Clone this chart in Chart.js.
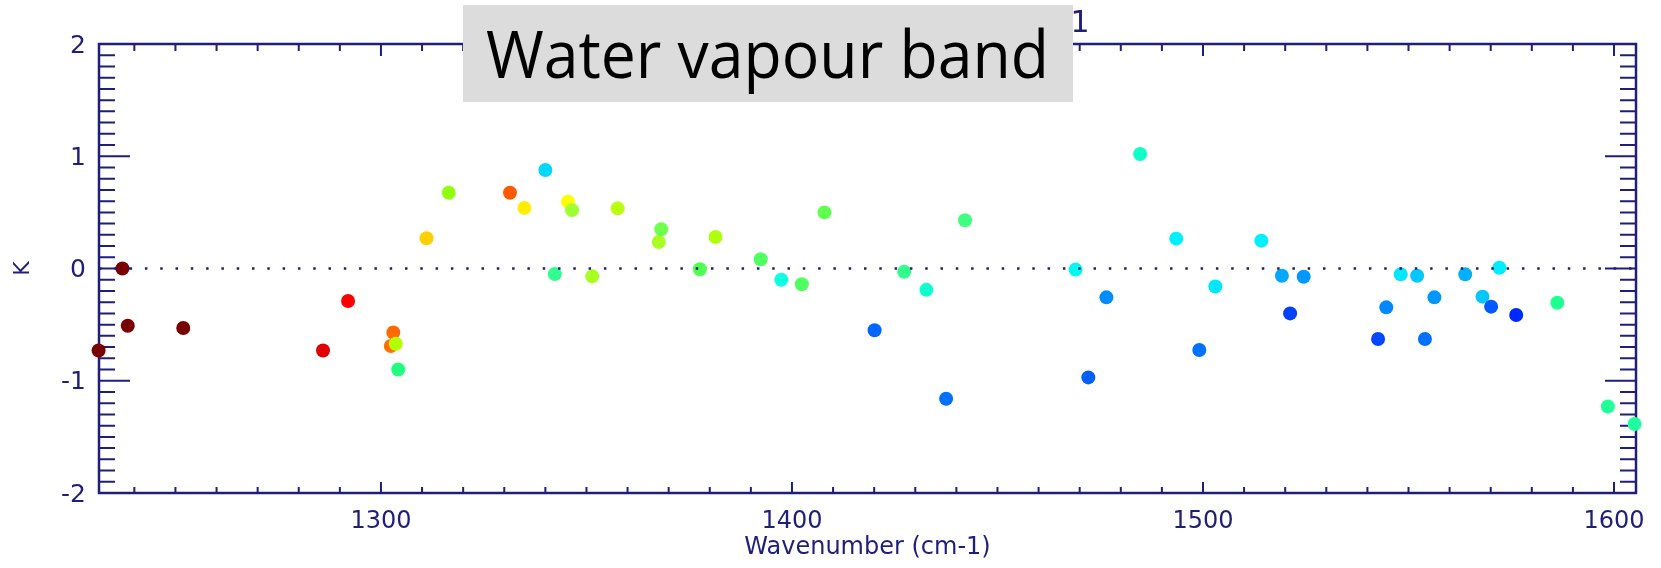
<!DOCTYPE html>
<html>
<head>
<meta charset="utf-8">
<script src="https://cdn.jsdelivr.net/npm/chart.js@4"></script>
<style>
  html, body { margin: 0; padding: 0; background: #ffffff; }
  #grafico { display: block; }
</style>
</head>
<body>
<canvas id="grafico" width="1661" height="568"></canvas>
<script>
// channel wavenumbers (cm-1) and brightness temperature differences (K)
const wavenumbers = [
  1231.3, 1237.1, 1238.4, 1251.9, 1285.9, 1292.0, 1303.0, 1302.4, 1303.6, 1304.2,
  1311.1, 1316.5, 1331.4, 1334.9, 1340.0, 1342.3, 1345.5, 1346.5, 1351.4, 1357.6,
  1367.6, 1368.2, 1377.6, 1381.4, 1392.4, 1397.4, 1402.4, 1407.9, 1420.1, 1427.3,
  1432.7, 1437.5, 1442.1, 1469.0, 1472.1, 1476.5, 1484.7, 1493.5, 1499.1, 1503.0,
  1514.2, 1519.2, 1521.2, 1524.5, 1542.6, 1544.6, 1548.1, 1552.1, 1554.0, 1556.3,
  1563.8, 1568.0, 1570.1, 1572.1, 1576.2, 1586.2, 1598.5, 1605.0
];
const differences = [
  -0.73, 0.00, -0.51, -0.53, -0.73, -0.29, -0.57, -0.69, -0.67, -0.90,
  0.27, 0.675, 0.675, 0.54, 0.877, -0.05, 0.595, 0.52, -0.07, 0.536,
  0.236, 0.35, -0.007, 0.28, 0.082, -0.10, -0.14, 0.50, -0.55, -0.03,
  -0.19, -1.16, 0.43, -0.01, -0.97, -0.257, 1.02, 0.266, -0.726, -0.16,
  0.248, -0.064, -0.40, -0.073, -0.628, -0.346, -0.052, -0.064, -0.628, -0.257,
  -0.052, -0.251, -0.34, 0.007, -0.414, -0.305, -1.23, -1.385
];
const pointColours = [
  '#7a0000', '#7a0000', '#7a0000', '#7a0000', '#e00000', '#ff0000', '#ff6a00', '#ff7000', '#b4ff00', '#20ff80',
  '#ffd000', '#90ff10', '#ff5a00', '#ffee00', '#00d8ff', '#30ff90', '#ffff00', '#a0ff30', '#a8ff20', '#b8ff10',
  '#a8ff20', '#70ff50', '#50ff50', '#b0ff10', '#50ff60', '#10ffe0', '#50ff60', '#60ff50', '#0066ff', '#30ff90',
  '#10ffd0', '#0070ff', '#40ff80', '#00f8f0', '#0060ff', '#008cff', '#10ffc8', '#00f0ff', '#0070ff', '#00e8ff',
  '#00f0ff', '#00a8ff', '#0040ff', '#0098ff', '#0048ff', '#0088ff', '#00e8ff', '#00c8ff', '#0070ff', '#0098ff',
  '#00b0ff', '#00c8ff', '#0058ff', '#00ecff', '#0028ff', '#20ff90', '#20ff98', '#20ffa0'
];
const xTicks = [1300, 1400, 1500, 1600];
const yTicks = [-2, -1, 0, 1, 2];
const xMin = 1231.4, xMax = 1605.35;

const navy = '#1f1f78';

// frame with inward ticks on all four sides (IDL style)
const molduraPlugin = {
  id: 'moldura',
  beforeDatasetsDraw(chart) {
    const { ctx, chartArea: a, scales } = chart;
    ctx.save();
    ctx.strokeStyle = navy;
    ctx.lineWidth = 2.5;
    ctx.strokeRect(a.left, a.top, a.right - a.left, a.bottom - a.top);
    ctx.lineWidth = 2;
    ctx.beginPath();
    for (let v = 1240; v <= 1600; v += 10) {
      const px = scales.x.getPixelForValue(v);
      const major = v % 100 === 0;
      ctx.moveTo(px, a.bottom);
      ctx.lineTo(px, a.bottom - (major ? 11 : 6));
      ctx.moveTo(px, a.top);
      ctx.lineTo(px, a.top + (major ? 12 : 7));
    }
    for (let i = -20; i <= 20; i++) {
      const py = scales.y.getPixelForValue(i / 10);
      const major = i % 10 === 0;
      ctx.moveTo(a.left, py);
      ctx.lineTo(a.left + (major ? 31 : 16), py);
      ctx.moveTo(a.right, py);
      ctx.lineTo(a.right - (major ? 31 : 16), py);
    }
    ctx.stroke();
    ctx.restore();
  },
  afterDraw(chart) {
    const { ctx } = chart;
    ctx.save();
    // leftover bit of the original title
    ctx.fillStyle = navy;
    ctx.font = '30px "DejaVu Sans"';
    ctx.textAlign = 'center';
    ctx.textBaseline = 'alphabetic';
    ctx.fillText('1', 1080, 32);
    // grey label box
    ctx.fillStyle = '#dcdcdc';
    ctx.fillRect(463, 5, 610, 97);
    ctx.fillStyle = '#000000';
    ctx.font = '66px "Open Sans"';
    ctx.textAlign = 'left';
    const texto = 'Water vapour band';
    const largura = ctx.measureText(texto).width;
    ctx.translate(486, 78);
    ctx.scale(563 / largura, 1);
    ctx.fillText(texto, 0, 0);
    ctx.restore();
  }
};

const ctx = document.getElementById('grafico').getContext('2d');

new Chart(ctx, {
  type: 'scatter',
  data: {
    datasets: [
      {
        type: 'line',
        data: [{ x: xMin, y: 0 }, { x: xMax, y: 0 }],
        borderColor: navy,
        borderWidth: 2.5,
        borderDash: [2.5, 12.8],
        pointRadius: 0
      },
      {
        data: wavenumbers.map((w, i) => ({ x: w, y: differences[i] })),
        backgroundColor: pointColours,
        borderWidth: 0,
        pointRadius: 7,
        pointHoverRadius: 7,
        clip: false
      }
    ]
  },
  plugins: [molduraPlugin],
  options: {
    responsive: false,
    devicePixelRatio: 1,
    animation: false,
    events: [],
    layout: { padding: { top: 44, right: 25, left: 0, bottom: 0 } },
    plugins: { legend: { display: false }, tooltip: { enabled: false } },
    scales: {
      x: {
        type: 'linear',
        min: xMin,
        max: xMax,
        afterBuildTicks: s => { s.ticks = xTicks.map(v => ({ value: v })); },
        afterFit: s => { s.height = 75; },
        grid: { display: false, drawTicks: false },
        border: { display: false },
        ticks: {
          color: navy,
          font: { family: 'DejaVu Sans', size: 24 },
          padding: 14,
          maxRotation: 0,
          autoSkip: false,
          callback: v => String(v)
        },
        title: {
          display: true,
          text: 'Wavenumber (cm-1)',
          color: navy,
          font: { family: 'DejaVu Sans', size: 24 },
          padding: { top: 0, bottom: 6 }
        }
      },
      y: {
        type: 'linear',
        min: -2,
        max: 2,
        afterBuildTicks: s => { s.ticks = yTicks.map(v => ({ value: v })); },
        afterFit: s => { s.width = 99; },
        grid: { display: false, drawTicks: false },
        border: { display: false },
        ticks: {
          color: navy,
          font: { family: 'DejaVu Sans', size: 25 },
          padding: 13,
          labelOffset: 2,
          autoSkip: false,
          callback: v => String(v)
        },
        title: {
          display: true,
          text: 'K',
          color: navy,
          font: { family: 'DejaVu Sans', size: 22 },
          padding: { top: 10, bottom: 0 }
        }
      }
    }
  }
});
</script>
</body>
</html>
